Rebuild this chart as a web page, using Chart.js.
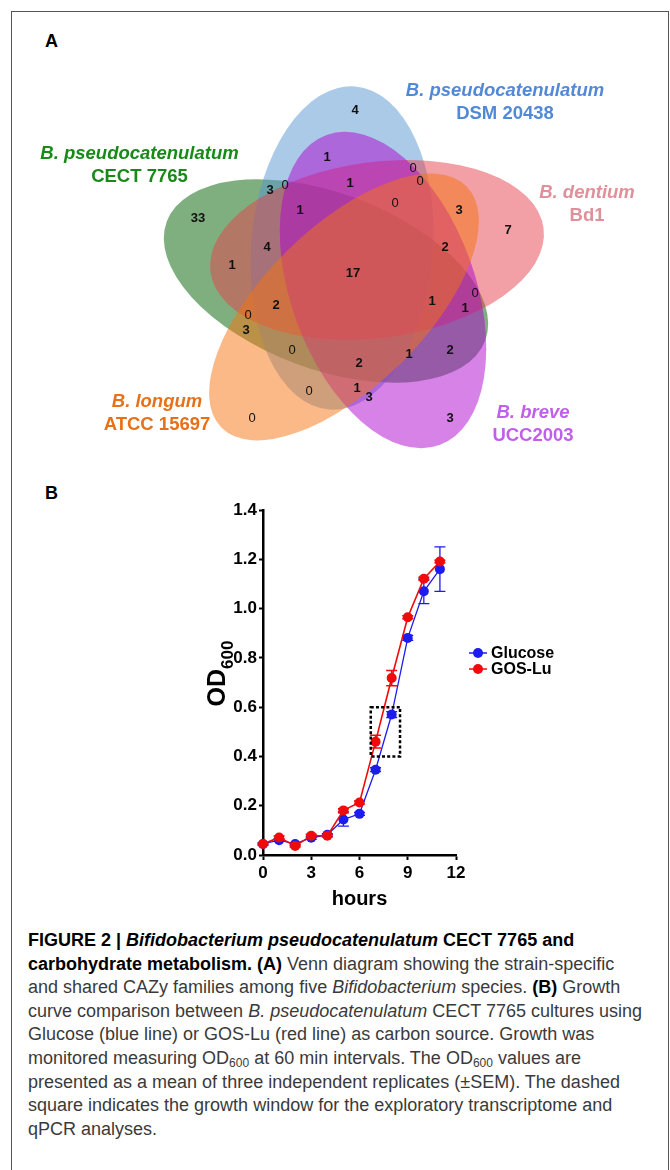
<!DOCTYPE html>
<html>
<head>
<meta charset="utf-8">
<script src="https://cdn.jsdelivr.net/npm/chart.js@4.4.1/dist/chart.umd.min.js"></script>
<style>
html, body { margin: 0; padding: 0; background: #fff; }
body { width: 670px; height: 1170px; position: relative; overflow: hidden; font-family: "Liberation Sans", Arial, sans-serif; }
#frame { position: absolute; left: 11px; top: 11px; width: 658px; height: 1220px; box-sizing: border-box; border: 1.5px solid #555; }
.panel { position: absolute; font-weight: bold; font-size: 18px; color: #000; line-height: 20px; }
#venn { position: absolute; left: 0; top: 0; }
#growth { position: absolute; left: 180px; top: 495px; }
#caption { position: absolute; left: 28px; top: 929px; font-size: 18px; line-height: 23.6px; color: #3a3a3a; white-space: nowrap; }
#caption b { color: #000; }
#caption sub { font-size: 12px; vertical-align: -3px; line-height: 0; }
</style>
</head>
<body>
<div id="frame"></div>
<div class="panel" style="left:45px;top:31px;">A</div>
<div class="panel" style="left:45px;top:483px;">B</div>
<canvas id="venn" width="670" height="470"></canvas>
<canvas id="growth" width="440" height="420"></canvas>
<div id="caption">
<b>FIGURE 2 | <i>Bifidobacterium pseudocatenulatum</i> CECT 7765 and</b><br>
<b>carbohydrate metabolism. (A)</b> Venn diagram showing the strain-specific<br>
and shared CAZy families among five <i>Bifidobacterium</i> species. <b>(B)</b> Growth<br>
curve comparison between <i>B. pseudocatenulatum</i> CECT 7765 cultures using<br>
Glucose (blue line) or GOS-Lu (red line) as carbon source. Growth was<br>
monitored measuring OD<sub>600</sub> at 60 min intervals. The OD<sub>600</sub> values are<br>
presented as a mean of three independent replicates (&plusmn;SEM). The dashed<br>
square indicates the growth window for the exploratory transcriptome and<br>
qPCR analyses.
</div>
<script>
// ---- Venn (A): CAZy families per region ----
const vennCounts = [4, 1, 0, 1, 0, 3, 0, 0, 3, 1, 33, 7, 4, 2, 1, 17, 0, 1, 1, 2, 0, 3, 0, 2, 1, 2, 0, 1, 3, 0, 3];
// where each region's number sits (venn units, centre of diagram = 0,0)
const regionX = [1, -27, 59, -4, 66, -84, -69, 41, 105, -54, -156, 154, -87, 91, -122, -1, 121, 78, 111, -78, -106, -108, -62, 96, 55, 5, -45, 3, 15, -102, 96];
const regionY = [165, 118, 107, 92, 94, 85, 90, 72, 65, 65, 57, 45, 28, 28, 10, 2, -18, -26, -33, -30, -40, -55, -75, -75, -79, -88, -116, -113, -122, -143, -143];

// sets, in drawing order
const speciesNames = ['B. pseudocatenulatum', 'B. pseudocatenulatum', 'B. dentium', 'B. breve', 'B. longum'];
const strainNames = ['CECT 7765', 'DSM 20438', 'Bd1', 'UCC2003', 'ATCC 15697'];
const ellipseCX = [-28, -12, 23, 29, -10];
const ellipseCY = [-6, 27, 25, -15, -32];
const ellipseA = [170, 162, 168, 165, 172];
const ellipseB = [88, 91, 88, 92, 80];
const ellipseAngle = [-20.5, 85.4, 7.5, -70, 44.5];
const fillColors = ['rgba(0,95,0,0.5)', 'rgba(86,150,210,0.5)', 'rgba(229,65,75,0.5)', 'rgba(175,5,205,0.5)', 'rgba(245,115,15,0.5)'];
const labelColors = ['#178a17', '#5289d6', '#e0909a', '#c060ea', '#e87019'];
const labelX = [-214.5, 151, 233, 179, -197];
const labelY = [121, 184, 82, -138, -127];

const vennPlugin = {
  id: 'vennShapes',
  beforeDatasetsDraw(chart) {
    const {ctx, scales: {x, y}} = chart;
    const ux = x.getPixelForValue(1) - x.getPixelForValue(0);
    const uy = y.getPixelForValue(0) - y.getPixelForValue(1);
    ctx.save();
    for (let i = 0; i < ellipseCX.length; i++) {
      ctx.beginPath();
      ctx.ellipse(x.getPixelForValue(ellipseCX[i]), y.getPixelForValue(ellipseCY[i]),
        ellipseA[i] * ux, ellipseB[i] * uy, -ellipseAngle[i] * Math.PI / 180, 0, Math.PI * 2);
      ctx.fillStyle = fillColors[i];
      ctx.fill();
    }
    ctx.restore();
  },
  afterDatasetsDraw(chart) {
    const {ctx, scales: {x, y}} = chart;
    const meta = chart.getDatasetMeta(0);
    ctx.save();
    ctx.textAlign = 'center';
    ctx.textBaseline = 'middle';
    ctx.fillStyle = '#111';
    meta.data.forEach((pt, i) => {
      ctx.font = (vennCounts[i] === 0 ? '' : 'bold ') + '13px "Liberation Sans", Arial';
      ctx.fillText(String(vennCounts[i]), pt.x, pt.y);
    });
    for (let i = 0; i < speciesNames.length; i++) {
      const px = x.getPixelForValue(labelX[i]);
      const py = y.getPixelForValue(labelY[i]);
      ctx.fillStyle = labelColors[i];
      ctx.font = 'italic bold 18.5px "Liberation Sans", Arial';
      ctx.fillText(speciesNames[i], px, py);
      ctx.font = 'bold 18.5px "Liberation Sans", Arial';
      ctx.fillText(strainNames[i], px, py + 23);
    }
    ctx.restore();
  }
};

new Chart(document.getElementById('venn'), {
  type: 'scatter',
  data: {
    datasets: [{
      data: vennCounts.map((c, i) => ({x: regionX[i], y: regionY[i]})),
      pointRadius: 0
    }]
  },
  options: {
    responsive: false,
    animation: false,
    events: [],
    layout: {padding: 0},
    plugins: {legend: {display: false}, tooltip: {enabled: false}},
    scales: {
      x: {type: 'linear', display: false, min: -354, max: 316},
      y: {type: 'linear', display: false, min: -195, max: 275}
    }
  },
  plugins: [vennPlugin]
});

// ---- Growth curve (B) ----
const hours = [0, 1, 2, 3, 4, 5, 6, 7, 8, 9, 10, 11];
const glucoseOD = [0.045, 0.06, 0.045, 0.07, 0.082, 0.144, 0.167, 0.346, 0.57, 0.881, 1.07, 1.16];
const glucoseSEM = [0.004, 0.005, 0.005, 0.006, 0.005, 0.027, 0.006, 0.008, 0.012, 0.01, 0.05, 0.09];
const gosOD = [0.045, 0.071, 0.037, 0.078, 0.078, 0.181, 0.213, 0.46, 0.718, 0.965, 1.121, 1.191];
const gosSEM = [0.004, 0.006, 0.004, 0.006, 0.005, 0.006, 0.006, 0.026, 0.031, 0.006, 0.006, 0.005];
const xTicks = [0, 3, 6, 9, 12];
const yTicks = [0, 0.2, 0.4, 0.6, 0.8, 1.0, 1.2, 1.4];
// dashed window used for transcriptome / qPCR sampling
const windowHours = [6.7, 8.52];
const windowOD = [0.4, 0.6];

const BLUE = '#1c1cf0';
const RED = '#f00a0a';
const tickFont = {family: '"Liberation Sans", Arial', size: 17, weight: 'bold'};

const errorBars = {
  id: 'errorBars',
  beforeDatasetsDraw(chart) {
    const {ctx, scales: {x, y}} = chart;
    ctx.save();
    [[glucoseOD, glucoseSEM, BLUE, 1.3], [gosOD, gosSEM, RED, 1.6]].forEach(([vals, sem, col, w]) => {
      ctx.strokeStyle = col;
      ctx.lineWidth = w;
      hours.forEach((h, i) => {
        const px = x.getPixelForValue(h);
        const top = y.getPixelForValue(vals[i] + sem[i]);
        const bot = y.getPixelForValue(vals[i] - sem[i]);
        ctx.beginPath();
        ctx.moveTo(px, top); ctx.lineTo(px, bot);
        ctx.moveTo(px - 5.5, top); ctx.lineTo(px + 5.5, top);
        ctx.moveTo(px - 5.5, bot); ctx.lineTo(px + 5.5, bot);
        ctx.stroke();
      });
    });
    ctx.restore();
  },
  afterDatasetsDraw(chart) {
    const {ctx, scales: {x, y}} = chart;
    ctx.save();
    ctx.strokeStyle = '#000';
    ctx.lineWidth = 2.5;
    ctx.setLineDash([3, 2.2]);
    const l = x.getPixelForValue(windowHours[0]), r = x.getPixelForValue(windowHours[1]);
    const t = y.getPixelForValue(windowOD[1]), b = y.getPixelForValue(windowOD[0]);
    ctx.strokeRect(l, t, r - l, b - t);
    ctx.restore();
  }
};

const sideLegend = {
  id: 'sideLegend',
  afterDraw(chart) {
    const {ctx} = chart;
    ctx.save();
    chart.data.datasets.forEach((ds, i) => {
      const yy = 158 + i * 16;
      ctx.strokeStyle = ds.borderColor;
      ctx.lineWidth = 1.5;
      ctx.beginPath(); ctx.moveTo(289, yy); ctx.lineTo(307, yy); ctx.stroke();
      ctx.fillStyle = ds.borderColor;
      ctx.beginPath(); ctx.arc(298, yy, 5, 0, Math.PI * 2); ctx.fill();
      ctx.fillStyle = '#000';
      ctx.font = 'bold 16px "Liberation Sans", Arial';
      ctx.textBaseline = 'middle';
      ctx.fillText(ds.label, 311, yy + 1);
    });
    ctx.restore();
  }
};

const yTitle = {
  id: 'yTitle',
  afterDraw(chart) {
    const {ctx, chartArea} = chart;
    ctx.save();
    ctx.translate(chartArea.left - 47, (chartArea.top + chartArea.bottom) / 2 - 9);
    ctx.rotate(-Math.PI / 2);
    ctx.fillStyle = '#000';
    ctx.font = 'bold 25px "Liberation Sans", Arial';
    const w1 = ctx.measureText('OD').width;
    ctx.font = 'bold 17px "Liberation Sans", Arial';
    const w2 = ctx.measureText('600').width;
    const x0 = -(w1 + w2) / 2;
    ctx.textBaseline = 'alphabetic';
    ctx.font = 'bold 25px "Liberation Sans", Arial';
    ctx.fillText('OD', x0, 9);
    ctx.font = 'bold 17px "Liberation Sans", Arial';
    ctx.fillText('600', x0 + w1, 17);
    ctx.restore();
  }
};

new Chart(document.getElementById('growth'), {
  type: 'scatter',
  data: {
    datasets: [
      {
        label: 'Glucose',
        data: hours.map((h, i) => ({x: h, y: glucoseOD[i]})),
        showLine: true,
        clip: false,
        borderColor: BLUE,
        backgroundColor: BLUE,
        borderWidth: 1.3,
        pointRadius: 5,
        pointBorderWidth: 0,
        order: 2
      },
      {
        label: 'GOS-Lu',
        data: hours.map((h, i) => ({x: h, y: gosOD[i]})),
        showLine: true,
        clip: false,
        borderColor: RED,
        backgroundColor: RED,
        borderWidth: 1.6,
        pointRadius: 5,
        pointBorderWidth: 0,
        order: 1
      }
    ]
  },
  options: {
    responsive: false,
    animation: false,
    events: [],
    layout: {padding: {top: 15, right: 164, left: 0, bottom: 0}},
    plugins: {legend: {display: false}, tooltip: {enabled: false}},
    scales: {
      x: {
        type: 'linear', min: 0, max: 12,
        afterBuildTicks: s => { s.ticks = xTicks.map(v => ({value: v})); },
        afterFit: s => { s.height = 60; },
        ticks: {font: tickFont, color: '#000', padding: 3, maxRotation: 0},
        grid: {drawOnChartArea: false, tickLength: 5, tickWidth: 2, tickColor: '#000'},
        border: {color: '#000', width: 2.5},
        title: {display: true, text: 'hours', color: '#000', font: {family: '"Liberation Sans", Arial', size: 20, weight: 'bold'}}
      },
      y: {
        type: 'linear', min: 0, max: 1.4,
        afterBuildTicks: s => { s.ticks = yTicks.map(v => ({value: v})); },
        afterFit: s => { s.width = 83; },
        ticks: {font: tickFont, color: '#000', padding: 2, callback: v => v.toFixed(1)},
        grid: {drawOnChartArea: false, tickLength: 4, tickWidth: 2, tickColor: '#000'},
        border: {color: '#000', width: 2.5}
      }
    }
  },
  plugins: [errorBars, sideLegend, yTitle]
});
</script>
</body>
</html>
